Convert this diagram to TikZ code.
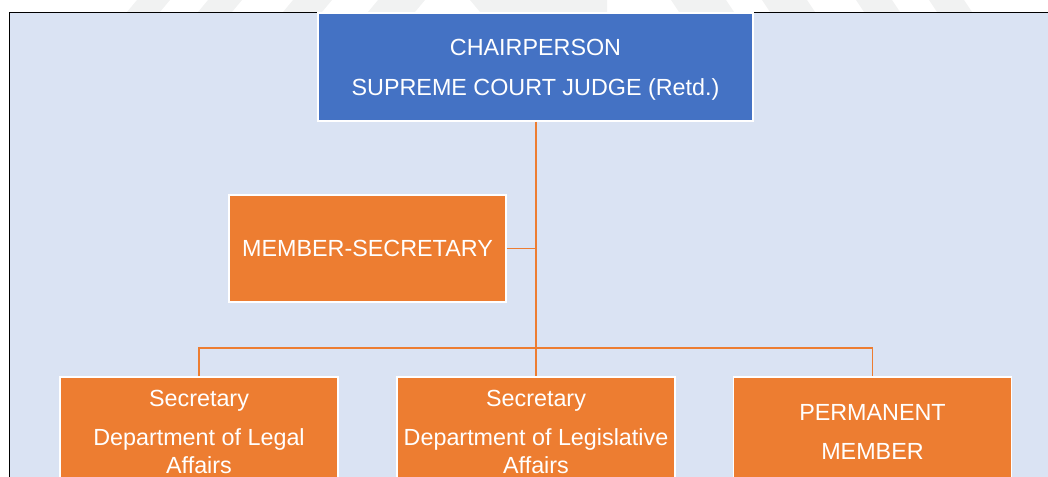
\documentclass[tikz,border=0pt]{standalone}
\usepackage{fontspec}
\setmainfont{Liberation Sans}
\usepackage{tikz}
\definecolor{chairblue}{HTML}{4472C4}
\definecolor{deptorange}{HTML}{ED7D31}
\definecolor{panelblue}{HTML}{DAE3F3}
\definecolor{markgrey}{HTML}{F1F2F2}
\tikzset{
  post/.style = {draw = white, line width = 1.1pt, text = white, inner sep = 0pt,
    align = center, font = \fontsize{17.5}{21}\selectfont},
  chairbox/.style = {post, fill = chairblue, minimum width = 326pt, minimum height = 81pt},
  memberbox/.style = {post, fill = deptorange, minimum width = 208pt, minimum height = 80pt},
  deptbox/.style = {post, fill = deptorange, minimum width = 208.5pt, minimum height = 82pt},
  link/.style = {draw = deptorange, line width = 1.4pt}
}

\begin{document}
\begin{tikzpicture}
  [x = .75pt, y = -.75pt]
  \useasboundingbox (0,0) rectangle (1048,477);
  \clip (0,0) rectangle (1048,477);
  % faint stripes above the panel
  \foreach \a/\b in {127/160,198/232,283/322,368/415}{
    \fill[markgrey] (\a,12) -- (\b,12) -- (\b+10,0) -- (\a+10,0) -- cycle;
  }
  \fill[markgrey] (480,12) -- (607,12) -- (607,0) -- (470,0) -- cycle;
  \foreach \a/\b in {671/726,762/807,856/892,929/964}{
    \fill[markgrey] (\a,0) -- (\b,0) -- (\b+8,12) -- (\a+8,12) -- cycle;
  }
  % panel
  \fill[panelblue] (9.5,12.5) rectangle (1060,500);
  \draw[black, line width = 1.1pt] (9.5,500) |- (1060,12.5);

  \node[chairbox] (chair) at (535.5,67) {\rule{0pt}{17pt}CHAIRPERSON\\[9pt]SUPREME COURT JUDGE (Retd.)};
  \node[memberbox] (member) at (367.5,248.5) {MEMBER-SECRETARY};
  \node[deptbox] (legal) at (199,431.5) {Secretary\\[8.25pt]Department of Legal\\Affairs};
  \node[deptbox] (legis) at (536,431.5) {Secretary\\[8.25pt]Department of Legislative\\Affairs};
  \node[deptbox] (perm) at (872.5,431.5) {PERMANENT\\[8.25pt]MEMBER};
  \coordinate (bar) at (536,348);

  \draw[link] (chair.south -| bar) -- (legis.north -| bar);
  \draw[link] (member.east) -- (member.east -| bar);
  \draw[link] (legal.north) |- (bar) -| (perm.north);
\end{tikzpicture}
\end{document}
